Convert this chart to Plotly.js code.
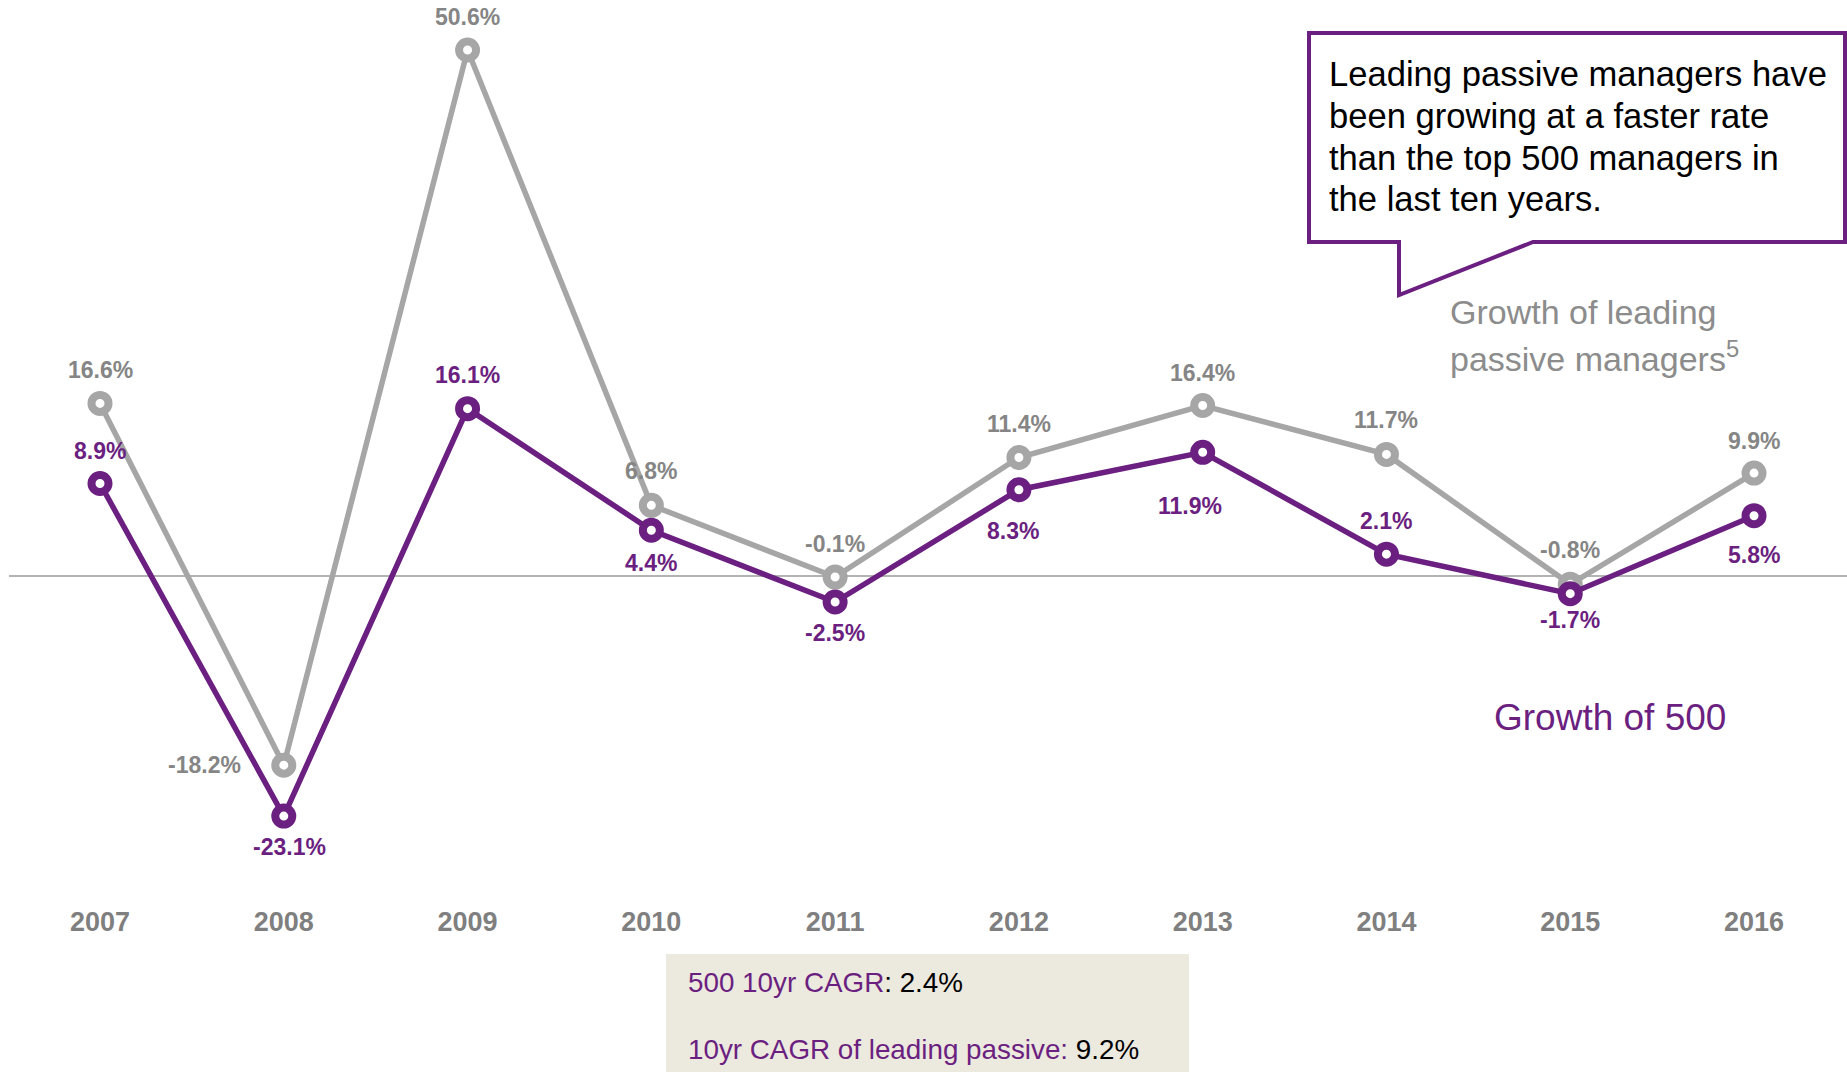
<!DOCTYPE html>
<html>
<head>
<meta charset="utf-8">
<script src="https://cdn.plot.ly/plotly-3.0.1.min.js"></script>
<style>
html,body{margin:0;padding:0;background:#fff;overflow:hidden;}
#chart{width:1847px;height:1072px;}
</style>
</head>
<body>
<div id="chart"></div>
<script>
// ---- data ----
const years = [2007, 2008, 2009, 2010, 2011, 2012, 2013, 2014, 2015, 2016];
const yearLabels = ['2007', '2008', '2009', '2010', '2011', '2012', '2013', '2014', '2015', '2016'];
const passiveGrowth = [16.6, -18.2, 50.6, 6.8, -0.1, 11.4, 16.4, 11.7, -0.8, 9.9];
const top500Growth = [8.9, -23.1, 16.1, 4.4, -2.5, 8.3, 11.9, 2.1, -1.7, 5.8];
const seriesNames = ['Growth of leading passive managers', 'Growth of 500'];
const calloutLines = ['Leading passive managers have', 'been growing at a faster rate', 'than the top 500 managers in', 'the last ten years.'];
const cagrLabels = ['500 10yr CAGR', '10yr CAGR of leading passive:'];
const cagrValues = ['2.4%', '9.2%'];

// ---- label placement (pixel offsets from the marker: dx right, dy down) ----
const passiveLabelDx = [0, -79, 0, 0, 0, 0, 0, 0, 0, 0];
const passiveLabelDy = [-33, 0, -33, -34, -33, -34, -33, -34, -34, -32];
const top500LabelDx = [0, 6, 0, 0, 0, -6, -13, 0, 0, 0];
const top500LabelDy = [-32, 31, -34, 33, 31, 41, 54, -33, 26, 39];

// ---- styling ----
const W = 1847, H = 1072;
const PURPLE = '#6b1f80';
const GRAY_LINE = '#a6a6a6';
const GRAY_TEXT = '#858585';
const FONT = 'Liberation Sans, Arial, Helvetica, sans-serif';

// pixel frame: year 2007 at x=100, step 183.78 px; value 0 at y=576, 10.395 px per %
const X0PX = 100, XSTEP = 183.78, Y0PX = 576, YSCALE = 10.395;
const xRange = [2007 - X0PX / XSTEP, 2007 + (W - X0PX) / XSTEP];
const yRange = [(Y0PX - H) / YSCALE, Y0PX / YSCALE];
const px = p => p / W;            // pixel x -> paper x
const py = p => 1 - p / H;        // pixel y -> paper y

const fmt = v => v.toFixed(1) + '%';

const traces = [
  {
    x: years, y: passiveGrowth, name: seriesNames[0], type: 'scatter', mode: 'lines+markers',
    line: {color: GRAY_LINE, width: 5.5},
    marker: {symbol: 'circle', size: 17, color: '#ffffff', line: {color: GRAY_LINE, width: 8}},
    cliponaxis: false, hoverinfo: 'skip'
  },
  {
    x: years, y: top500Growth, name: seriesNames[1], type: 'scatter', mode: 'lines+markers',
    line: {color: PURPLE, width: 5.5},
    marker: {symbol: 'circle', size: 17, color: '#ffffff', line: {color: PURPLE, width: 8}},
    cliponaxis: false, hoverinfo: 'skip'
  }
];

const annotations = [];
years.forEach((yr, i) => {
  annotations.push({
    x: yr, y: passiveGrowth[i], xref: 'x', yref: 'y', showarrow: false,
    text: fmt(passiveGrowth[i]), xshift: passiveLabelDx[i], yshift: -passiveLabelDy[i],
    xanchor: 'center', yanchor: 'middle',
    font: {family: FONT, size: 23, color: GRAY_TEXT, weight: 'bold'}
  });
  annotations.push({
    x: yr, y: top500Growth[i], xref: 'x', yref: 'y', showarrow: false,
    text: fmt(top500Growth[i]), xshift: top500LabelDx[i], yshift: -top500LabelDy[i],
    xanchor: 'center', yanchor: 'middle',
    font: {family: FONT, size: 23, color: PURPLE, weight: 'bold'}
  });
});

// callout text
calloutLines.forEach((t, i) => {
  annotations.push({
    x: px(1327), y: py(73.5 + 42 * i), xref: 'paper', yref: 'paper', showarrow: false,
    text: t, xanchor: 'left', yanchor: 'middle',
    font: {family: FONT, size: 34.6, color: '#000000'}
  });
});

// series labels
annotations.push({
  x: px(1448), y: py(312), xref: 'paper', yref: 'paper', showarrow: false,
  text: 'Growth of leading', xanchor: 'left', yanchor: 'middle',
  font: {family: FONT, size: 34, color: '#8c8c8c'}
});
annotations.push({
  x: px(1448), y: py(356), xref: 'paper', yref: 'paper', showarrow: false,
  text: 'passive managers<sup>5</sup>', xanchor: 'left', yanchor: 'middle',
  font: {family: FONT, size: 34, color: '#8c8c8c'}
});
annotations.push({
  x: px(1492), y: py(717.7), xref: 'paper', yref: 'paper', showarrow: false,
  text: seriesNames[1], xanchor: 'left', yanchor: 'middle',
  font: {family: FONT, size: 37, color: PURPLE}
});

// CAGR box text
annotations.push({
  x: px(686), y: py(982), xref: 'paper', yref: 'paper', showarrow: false,
  text: '<span style="color:' + PURPLE + '">' + cagrLabels[0] + '</span>: ' + cagrValues[0],
  xanchor: 'left', yanchor: 'middle',
  font: {family: FONT, size: 27.8, color: '#000000'}
});
annotations.push({
  x: px(686), y: py(1049), xref: 'paper', yref: 'paper', showarrow: false,
  text: '<span style="color:' + PURPLE + '">' + cagrLabels[1] + '</span> ' + cagrValues[1],
  xanchor: 'left', yanchor: 'middle',
  font: {family: FONT, size: 27.8, color: '#000000'}
});

const calloutPath = [
  [1309, 33], [1845, 33], [1845, 242], [1533, 242], [1399, 295], [1399, 242], [1309, 242]
].map((p, i) => (i ? 'L' : 'M') + px(p[0]).toFixed(5) + ',' + py(p[1]).toFixed(5)).join(' ') + ' Z';

const shapes = [
  {type: 'line', xref: 'paper', yref: 'y', x0: px(9), x1: 1, y0: 0, y1: 0,
   line: {color: '#b3b3b3', width: 1.8}, layer: 'below'},
  {type: 'path', xref: 'paper', yref: 'paper', path: calloutPath,
   fillcolor: '#ffffff', line: {color: PURPLE, width: 4}, layer: 'above'},
  {type: 'rect', xref: 'paper', yref: 'paper', x0: px(666), x1: px(1189), y0: py(954), y1: py(1072),
   fillcolor: '#ece9df', line: {width: 0}, layer: 'below'}
];

const layout = {
  width: W, height: H,
  margin: {l: 0, r: 0, t: 0, b: 0, pad: 0},
  paper_bgcolor: '#ffffff', plot_bgcolor: 'rgba(0,0,0,0)',
  showlegend: false,
  xaxis: {
    type: 'linear', range: xRange, fixedrange: true,
    tickmode: 'array', tickvals: years, ticktext: yearLabels,
    showgrid: false, zeroline: false, showline: false, ticks: '',
    anchor: 'free', position: py(903),
    tickfont: {family: FONT, size: 27, color: '#7f7f7f', weight: 'bold'}
  },
  yaxis: {
    range: yRange, visible: false, fixedrange: true,
    showgrid: false, zeroline: false
  },
  shapes: shapes,
  annotations: annotations
};

Plotly.newPlot('chart', traces, layout, {displayModeBar: false, staticPlot: true});
</script>
</body>
</html>
